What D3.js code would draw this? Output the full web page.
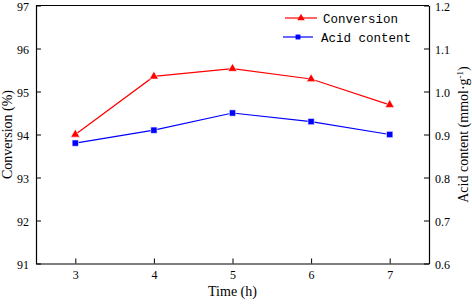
<!DOCTYPE html>
<html><head><meta charset="utf-8">
<script src="https://cdn.jsdelivr.net/npm/d3@7"></script>
<style>body{margin:0;background:#fff}svg{display:block}</style>
</head><body>
<svg id="c" width="472" height="304"></svg>
<script>
const times = [3, 4, 5, 6, 7];
const conversion = [94.0, 95.35, 95.53, 95.29, 94.69];
const acidContent = [0.88, 0.91, 0.95, 0.93, 0.90];
const leftTicks = [91, 92, 93, 94, 95, 96, 97];
const rightTicks = [0.6, 0.7, 0.8, 0.9, 1.0, 1.1, 1.2];
const seriesNames = ["Conversion", "Acid content"];

const svg = d3.select("#c");
const L = 36, R = 429, T = 5.5, B = 263.5;
const x = d3.scaleLinear().domain([2.5, 7.5]).range([L, R]);
const yL = d3.scaleLinear().domain([91, 97]).range([B, T]);
const yR = d3.scaleLinear().domain([0.6, 1.2]).range([B, T]);
const serif = "'Liberation Serif','Times New Roman',serif";

// top border
svg.append("line").attr("x1", L).attr("x2", R).attr("y1", T).attr("y2", T)
  .attr("stroke", "#000").attr("stroke-width", 1.2);

const gx = svg.append("g").attr("transform", `translate(0,${B})`)
  .call(d3.axisBottom(x).tickValues(times).tickFormat(d3.format("d")).tickSizeInner(-5).tickSizeOuter(0).tickPadding(7));
const gl = svg.append("g").attr("transform", `translate(${L},0)`)
  .call(d3.axisLeft(yL).tickValues(leftTicks).tickFormat(d3.format("d")).tickSizeInner(-5).tickSizeOuter(0).tickPadding(7));
const gr = svg.append("g").attr("transform", `translate(${R},0)`)
  .call(d3.axisRight(yR).tickValues(rightTicks).tickFormat(d3.format(".1f")).tickSizeInner(-5).tickSizeOuter(0).tickPadding(6));
[gx, gl, gr].forEach(g => {
  g.select(".domain").attr("stroke", "#000").attr("stroke-width", 1.2);
  g.selectAll(".tick line").attr("stroke", "#000").attr("stroke-width", 1);
  g.selectAll(".tick text").attr("fill", "#000").style("font-family", serif).style("font-size", "12px");
});
gl.selectAll(".tick text").attr("dy", "0.42em");
gr.selectAll(".tick text").attr("dy", "0.42em");

// axis titles
svg.append("text").attr("x", x(5)).attr("y", 296).attr("text-anchor", "middle")
  .style("font-family", serif).style("font-size", "14px").text("Time (h)");
svg.append("text").attr("transform", `translate(12,${(T + B) / 2}) rotate(-90)`).attr("text-anchor", "middle")
  .style("font-family", serif).style("font-size", "14px").text("Conversion (%)");
const rt = svg.append("text").attr("transform", `translate(468,${(T + B) / 2}) rotate(-90)`).attr("text-anchor", "middle")
  .style("font-family", serif).style("font-size", "14px");
rt.append("tspan").text("Acid content (mmol·g");
rt.append("tspan").attr("dy", -5).style("font-size", "9px").text("-1");
rt.append("tspan").attr("dy", 5).text(")");

const convData = times.map((t, i) => [t, conversion[i]]);
const acidData = times.map((t, i) => [t, acidContent[i]]);

svg.append("path").datum(convData).attr("fill", "none").attr("stroke", "#ff0000").attr("stroke-width", 1.2)
  .attr("d", d3.line().x(d => x(d[0])).y(d => yL(d[1])));
svg.append("path").datum(acidData).attr("fill", "none").attr("stroke", "#0000ff").attr("stroke-width", 1.2)
  .attr("d", d3.line().x(d => x(d[0])).y(d => yR(d[1])));

const tri = d3.symbol().type(d3.symbolTriangle).size(36);
const sq = d3.symbol().type(d3.symbolSquare).size(40);
svg.selectAll(".tri").data(convData).join("path").attr("class", "tri")
  .attr("transform", d => `translate(${x(d[0])},${yL(d[1])})`).attr("d", tri)
  .attr("fill", "#ff0000").attr("stroke", "#fff").attr("stroke-width", 0.6);
svg.selectAll(".sq").data(acidData).join("path").attr("class", "sq")
  .attr("transform", d => `translate(${x(d[0])},${yR(d[1])})`).attr("d", sq)
  .attr("fill", "#0000ff").attr("stroke", "#fff").attr("stroke-width", 0.6);

// legend
const mono = "'Liberation Mono','DejaVu Sans Mono',monospace";
const leg = [
  {name: seriesNames[0], color: "#ff0000", sym: d3.symbol().type(d3.symbolTriangle).size(24), x1: 285, x2: 317, y: 18, tx: 323},
  {name: seriesNames[1], color: "#0000ff", sym: d3.symbol().type(d3.symbolSquare).size(24), x1: 283, x2: 313, y: 37, tx: 321}
];
leg.forEach(l => {
  svg.append("line").attr("x1", l.x1).attr("x2", l.x2).attr("y1", l.y).attr("y2", l.y)
    .attr("stroke", l.color).attr("stroke-width", 1.2);
  svg.append("path").attr("d", l.sym).attr("transform", `translate(${(l.x1 + l.x2) / 2},${l.y})`).attr("fill", l.color);
  svg.append("text").attr("x", l.tx).attr("y", l.y + 4.5).style("font-family", mono).style("font-size", "12.5px")
    .attr("fill", "#000").text(l.name);
});
</script>
</body></html>
